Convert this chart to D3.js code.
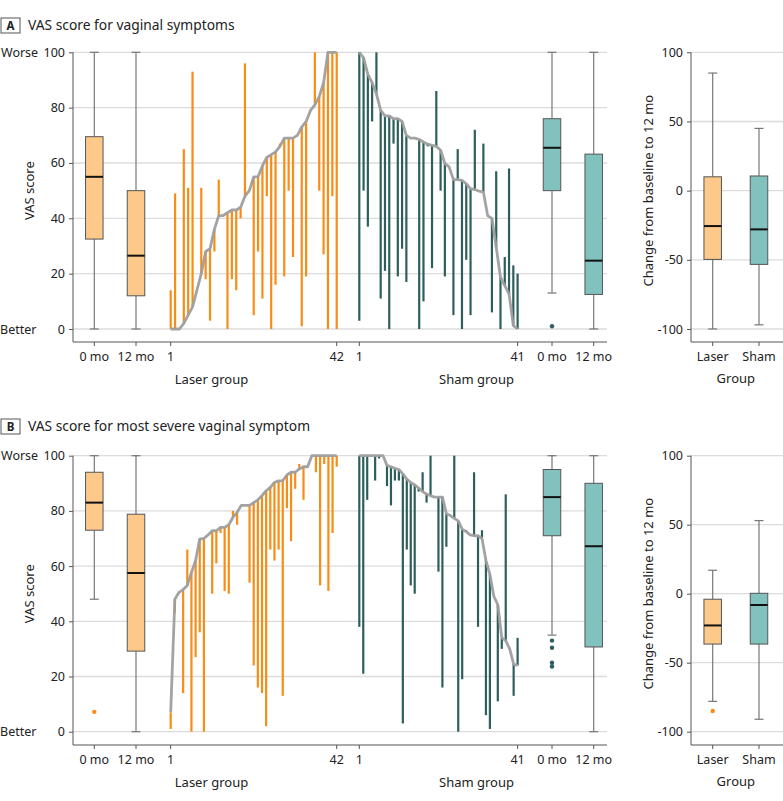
<!DOCTYPE html>
<html>
<head>
<meta charset="utf-8">
<script src="https://cdn.jsdelivr.net/npm/d3@7"></script>
<style>
  html, body { margin: 0; padding: 0; background: #fff; }
  text { font-family: "Noto Sans", Lato, sans-serif; fill: #222; }
</style>
</head>
<body>
<svg id="chart" width="783" height="801"></svg>
<script>
// ---------------- DATA ----------------
const panelTitles = ["VAS score for vaginal symptoms", "VAS score for most severe vaginal symptom"];
const panelLetters = ["A", "B"];
const yTicks = [0, 20, 40, 60, 80, 100];
const changeTicks = [-100, -50, 0, 50, 100];
const timeLabels = ["0 mo", "12 mo"];
const groupLabels = ["Laser", "Sham"];
const laserEndLabels = ["1", "42"];
const shamEndLabels = ["1", "41"];

// Panel A: per-patient baseline (sorted) and 12-mo values
const laserA_base = [0,0,0,2,5,8,14,20,28,29,36,41,41,42,43,43,44,48,50,55,55,59,62,63,64,66,69,69,69,70,73,75,79,81,84,89,100,100,100];
const laserA_fu   = [14,49,0,65,51,93,14,51,18,3,28,54,41,0,18,14,40,96,50,5,28,11,48,0,16,67,19,50,26,70,1,19,79,100,50,27,0,48,0];
const shamA_base  = [100,98,92,89,85,79,77,77,76,76,75,70,69,69,68.5,67.6,66.8,66.4,66,64.6,59.8,58.6,54,54,53.7,52.5,50.7,50.4,49.8,49.5,41,40,29.6,18.7,15.7,12.7,1.2,0];
const shamA_fu    = [3,50,37,75,100,11,21,0,67,19,29,17,69,69,0,10,66,22,86,50,19,58.6,5,65,0,25,5,72,50,67,41,6,57,0,26,58,23,20];

// Panel B
const laserB_base = [7,48,50.5,51.5,53,57.7,62,69.8,70,71.3,72.8,72.8,74,74,75,77.7,79.5,82,82,82,83,84,85.5,87.3,88.5,90.3,90.9,91,93,94,94,95.2,96,96,100,100,100,100,100,100,100];
const laserB_fu   = [1,43,50,14,66,0,27,36,0,71.3,50,61,72,51,50,80,75,82,82,54,24,16,14,2,66,62,66,13,81,69,88,97,84,96,100,94,53,97,51,72,96];
const shamB_base  = [100,100,100,100,100,100,100,96.5,96,95.4,95,93.4,91.5,90.3,89.4,88.3,87,86.1,85.5,85,85,85,79,78.3,77.3,76.4,73.4,72.5,71.3,71,71,70,62,57,49,46,34,33,30,24.5,24];
const shamB_fu    = [38,21,84,100,91,99,100,89,82,91,91,3,66,53,50,87,94,83,100,85,58,16,67,78.3,100,0,19,73,71.3,94,38,73,6,1,49,11,30,86,30,13,34];

// Box summaries [min whisker, q1, median, q3, max whisker], outliers
const laserA_box = [[0,32.5,55,69.5,100],[0,12,26.5,50,100]];
const laserA_out = [[],[]];
const shamA_box  = [[13,50,65.5,76,100],[0,12.5,24.7,63.2,100]];
const shamA_out  = [[1],[]];
const changeA_box = [[-100,-49.7,-25.6,10,85],[-97,-53.3,-28,10.6,45]];
const changeA_out = [[],[]];

const laserB_box = [[48,73,83,94,100],[0,29.2,57.5,78.8,100]];
const laserB_out = [[7.2],[]];
const shamB_box  = [[35,71,85,95,100],[0,30.7,67.2,90,100]];
const shamB_out  = [[33,30.4,25,23.6],[]];
const changeB_box = [[-78,-36.5,-23,-4,17],[-91,-36.5,-8.2,0.3,53]];
const changeB_out = [[-85],[]];

// ---------------- STYLE ----------------
const C = {
  orange: "#F88C14", orangeFill: "#FDC98A",
  teal: "#2C5F5B", tealFill: "#82C2BE",
  line: "#9E9E9E", grid: "#DCDCDC", axis: "#555", whisker: "#777", boxStroke: "#555"
};
const FS = { tick: 12.5, title: 13.8, axisTitle: 13, side: 12.5 };

const svg = d3.select("#chart");

const L = { left: 73, right: 607, rLeft: 691, rRight: 783 };
const xLaserBox = d3.scalePoint().domain(timeLabels).range([94.3, 136]);
const xShamBox  = d3.scalePoint().domain(timeLabels).range([552, 593.7]);
const xGroup    = d3.scalePoint().domain(groupLabels).range([712.7, 759]);

function drawBox(g, x, y, s, outs, fill, outColor) {
  const bw = 17.5, cap = 9;
  const [mn, q1, md, q3, mx] = s;
  g.append("line").attr("x1", x).attr("x2", x).attr("y1", y(mx)).attr("y2", y(q3)).attr("stroke", C.whisker).attr("stroke-width", 1.2);
  g.append("line").attr("x1", x).attr("x2", x).attr("y1", y(q1)).attr("y2", y(mn)).attr("stroke", C.whisker).attr("stroke-width", 1.2);
  [mn, mx].forEach(v => g.append("line").attr("x1", x - cap/2).attr("x2", x + cap/2).attr("y1", y(v)).attr("y2", y(v)).attr("stroke", C.whisker).attr("stroke-width", 1.2));
  g.append("rect").attr("x", x - bw/2).attr("y", y(q3)).attr("width", bw).attr("height", y(q1) - y(q3))
    .attr("fill", fill).attr("stroke", C.boxStroke).attr("stroke-width", 1);
  g.append("line").attr("x1", x - bw/2).attr("x2", x + bw/2).attr("y1", y(md)).attr("y2", y(md)).attr("stroke", "#111").attr("stroke-width", 2);
  outs.forEach(v => g.append("circle").attr("cx", x).attr("cy", y(v)).attr("r", 2.2).attr("fill", outColor));
}

function drawPatients(g, xs, y, base, fu, color) {
  const idx = d3.range(base.length);
  g.selectAll(null).data(idx).join("line")
    .attr("x1", i => xs(i)).attr("x2", i => xs(i))
    .attr("y1", i => y(base[i])).attr("y2", i => y(fu[i]))
    .attr("stroke", color).attr("stroke-width", 2.2);
  g.append("path").datum(idx)
    .attr("d", d3.line().x(i => xs(i)).y(i => y(base[i])))
    .attr("fill", "none").attr("stroke", C.line).attr("stroke-width", 2.8).attr("stroke-linejoin", "round").attr("stroke-opacity", 0.95);
}

function drawPanel(p) {
  const g = svg.append("g");
  const y = d3.scaleLinear().domain([0, 100]).range([p.y0, p.y100]);
  const yc = d3.scaleLinear().domain([-100, 100]).range([p.y0, p.y100]);

  // Title
  g.append("rect").attr("x", 1).attr("y", p.titleY - 12).attr("width", 19).attr("height", 15)
    .attr("fill", "#fff").attr("stroke", "#555").attr("stroke-width", 1);
  g.append("text").attr("x", 10.5).attr("y", p.titleY - 0.5).attr("text-anchor", "middle")
    .attr("font-size", 11.5).attr("font-weight", 700).text(p.letter);
  g.append("text").attr("x", 28).attr("y", p.titleY).attr("font-size", FS.title).text(p.title);

  // Gridlines left
  g.selectAll(null).data(yTicks).join("line")
    .attr("x1", L.left).attr("x2", L.right).attr("y1", d => y(d)).attr("y2", d => y(d))
    .attr("stroke", C.grid).attr("stroke-width", 1.3);
  // Gridlines right
  g.selectAll(null).data(changeTicks).join("line")
    .attr("x1", L.rLeft).attr("x2", L.rRight).attr("y1", d => yc(d)).attr("y2", d => yc(d))
    .attr("stroke", C.grid).attr("stroke-width", 1.3);

  // Left y axis
  const ya = g.append("g").attr("transform", `translate(${L.left},0)`)
    .call(d3.axisLeft(y).tickValues(yTicks).tickSize(4).tickPadding(4));
  ya.select(".domain").remove();
  ya.selectAll(".tick line").attr("stroke", C.axis);
  ya.selectAll(".tick text").attr("font-size", FS.tick).attr("fill", "#222").attr("font-family", "'Noto Sans', sans-serif");
  g.append("line").attr("x1", L.left).attr("x2", L.left).attr("y1", y(100)).attr("y2", p.axisY).attr("stroke", C.axis);
  g.append("text").attr("x", 1).attr("y", y(100) + 4.5).attr("font-size", FS.side).text("Worse");
  g.append("text").attr("x", 0).attr("y", y(0) + 4.5).attr("font-size", FS.side).text("Better");
  g.append("text").attr("transform", `translate(34,${(y(0) + y(100)) / 2}) rotate(-90)`)
    .attr("text-anchor", "middle").attr("font-size", FS.axisTitle).text("VAS score");

  // Bottom axis left
  g.append("line").attr("x1", L.left).attr("x2", L.right).attr("y1", p.axisY).attr("y2", p.axisY).attr("stroke", C.axis);
  const xLaser = d3.scaleLinear().domain([0, p.laserBase.length - 1]).range([170.7, 336.7]);
  const xSham = d3.scaleLinear().domain([0, p.shamBase.length - 1]).range([359.3, 517.6]);
  const ticks = [
    ...timeLabels.map(t => ({ x: xLaserBox(t), t })),
    { x: xLaser(0), t: laserEndLabels[0] }, { x: xLaser(p.laserBase.length - 1), t: laserEndLabels[1] },
    { x: xSham(0), t: shamEndLabels[0] }, { x: xSham(p.shamBase.length - 1), t: shamEndLabels[1] },
    ...timeLabels.map(t => ({ x: xShamBox(t), t }))
  ];
  ticks.forEach(d => {
    g.append("line").attr("x1", d.x).attr("x2", d.x).attr("y1", p.axisY).attr("y2", p.axisY + 4).attr("stroke", C.axis);
    g.append("text").attr("x", d.x).attr("y", p.axisY + 19).attr("text-anchor", "middle").attr("font-size", FS.tick).text(d.t);
  });
  const laserMid = (xLaserBox(timeLabels[0]) + xLaser(p.laserBase.length - 1)) / 2 - 4;
  const shamMid = (xSham(0) + xShamBox(timeLabels[1])) / 2;
  g.append("text").attr("x", laserMid).attr("y", p.axisY + 42).attr("text-anchor", "middle").attr("font-size", FS.axisTitle).text("Laser group");
  g.append("text").attr("x", shamMid).attr("y", p.axisY + 42).attr("text-anchor", "middle").attr("font-size", FS.axisTitle).text("Sham group");

  // Boxes left
  timeLabels.forEach((t, i) => drawBox(g, xLaserBox(t), y, p.laserBox[i], p.laserOut[i], C.orangeFill, C.orange));
  timeLabels.forEach((t, i) => drawBox(g, xShamBox(t), y, p.shamBox[i], p.shamOut[i], C.tealFill, C.teal));

  // Patients
  drawPatients(g, xLaser, y, p.laserBase, p.laserFu, C.orange);
  drawPatients(g, xSham, y, p.shamBase, p.shamFu, C.teal);

  // Right panel axis
  const ra = g.append("g").attr("transform", `translate(${L.rLeft},0)`)
    .call(d3.axisLeft(yc).tickValues(changeTicks).tickFormat(d => String(d)).tickSize(4).tickPadding(4));
  ra.select(".domain").remove();
  ra.selectAll(".tick line").attr("stroke", C.axis);
  ra.selectAll(".tick text").attr("font-size", FS.tick).attr("fill", "#222").attr("font-family", "'Noto Sans', sans-serif");
  g.append("line").attr("x1", L.rLeft).attr("x2", L.rLeft).attr("y1", yc(100)).attr("y2", p.axisY).attr("stroke", C.axis);
  g.append("line").attr("x1", L.rLeft).attr("x2", L.rRight).attr("y1", p.axisY).attr("y2", p.axisY).attr("stroke", C.axis);
  groupLabels.forEach(t => {
    g.append("line").attr("x1", xGroup(t)).attr("x2", xGroup(t)).attr("y1", p.axisY).attr("y2", p.axisY + 4).attr("stroke", C.axis);
    g.append("text").attr("x", xGroup(t)).attr("y", p.axisY + 19).attr("text-anchor", "middle").attr("font-size", FS.tick).text(t);
  });
  g.append("text").attr("x", (xGroup(groupLabels[0]) + xGroup(groupLabels[1])) / 2).attr("y", p.axisY + 41)
    .attr("text-anchor", "middle").attr("font-size", FS.axisTitle).text("Group");
  g.append("text").attr("transform", `translate(653,${(yc(-100) + yc(100)) / 2}) rotate(-90)`)
    .attr("text-anchor", "middle").attr("font-size", FS.axisTitle).text("Change from baseline to 12 mo");
  groupLabels.forEach((t, i) => drawBox(g, xGroup(t), yc, p.changeBox[i], p.changeOut[i],
    i === 0 ? C.orangeFill : C.tealFill, i === 0 ? C.orange : C.teal));
}

drawPanel({
  letter: panelLetters[0], title: panelTitles[0], titleY: 30,
  y100: 52.3, y0: 329, axisY: 342,
  laserBase: laserA_base, laserFu: laserA_fu, shamBase: shamA_base, shamFu: shamA_fu,
  laserBox: laserA_box, laserOut: laserA_out, shamBox: shamA_box, shamOut: shamA_out,
  changeBox: changeA_box, changeOut: changeA_out
});
drawPanel({
  letter: panelLetters[1], title: panelTitles[1], titleY: 431,
  y100: 455.7, y0: 731.7, axisY: 745,
  laserBase: laserB_base, laserFu: laserB_fu, shamBase: shamB_base, shamFu: shamB_fu,
  laserBox: laserB_box, laserOut: laserB_out, shamBox: shamB_box, shamOut: shamB_out,
  changeBox: changeB_box, changeOut: changeB_out
});
</script>
</body>
</html>
